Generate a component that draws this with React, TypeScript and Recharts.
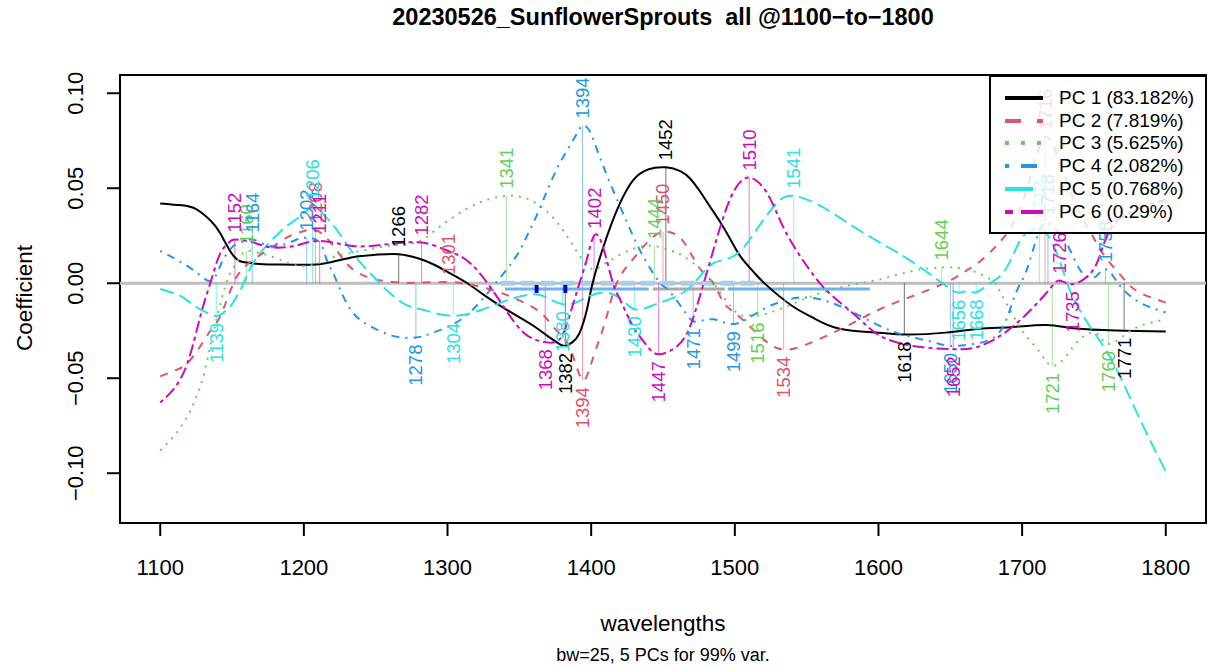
import React from 'react'
import {
  ComposedChart,
  Line,
  XAxis,
  YAxis,
  ReferenceLine,
  ReferenceDot,
  ReferenceArea,
  Legend
} from 'recharts'

const FONT = '"Liberation Sans", Arial, Helvetica, sans-serif'

const xTicks = [1100, 1200, 1300, 1400, 1500, 1600, 1700, 1800]
const yTicks = [-0.1, -0.05, 0, 0.05, 0.1]
const X_DOMAIN: [number, number] = [1072, 1828]
const Y_DOMAIN: [number, number] = [-0.1262, 0.1096]

const pcNames = ['PC 1 (83.182%)', 'PC 2 (7.819%)', 'PC 3 (5.625%)', 'PC 4 (2.082%)', 'PC 5 (0.768%)', 'PC 6 (0.29%)']
const pcColors = ['#000000', '#DF536B', '#61D04F', '#2297E6', '#28E2E5', '#CD0BBC']
// R line types, in units of lwd
const pcLty = ['', '4 4', '1 3', '1 3 4 3', '7 3', '2 2 6 2']

// PC 1
const pc1Nm = [1100, 1115, 1125, 1135, 1142, 1151, 1160, 1172, 1184, 1200, 1215, 1234, 1250, 1266, 1280, 1290, 1300, 1313, 1325, 1337, 1348, 1360, 1370, 1378, 1382, 1387, 1392, 1397, 1401, 1408, 1414, 1420, 1429, 1440, 1452, 1462, 1469, 1476, 1483, 1490, 1497, 1504, 1513, 1522, 1540, 1554, 1573, 1600, 1618, 1647, 1670, 1694, 1717, 1740, 1771, 1800]
const pc1 = [0.042, 0.041, 0.039, 0.033, 0.026, 0.0144, 0.0109, 0.01, 0.0099, 0.0097, 0.0105, 0.0137, 0.015, 0.0153, 0.013, 0.01, 0.006, 0.0004, -0.006, -0.012, -0.017, -0.0225, -0.028, -0.032, -0.033, -0.031, -0.026, -0.014, 0, 0.018, 0.031, 0.042, 0.054, 0.06, 0.061, 0.059, 0.055, 0.048, 0.04, 0.032, 0.023, 0.014, 0.006, -0.001, -0.012, -0.018, -0.024, -0.026, -0.027, -0.026, -0.024, -0.023, -0.022, -0.024, -0.025, -0.0254]
const pc1Peaks = [1266, 1382, 1452, 1618, 1771]

// PC 2
const pc2Nm = [1100, 1110, 1119, 1128, 1135, 1142, 1151, 1158, 1165, 1176, 1188, 1198, 1208, 1218, 1227, 1234, 1245, 1258, 1270, 1281, 1301, 1310, 1320, 1335, 1348, 1358, 1367, 1376, 1383, 1389, 1394, 1398, 1401, 1406, 1411, 1418, 1429, 1441, 1450, 1458, 1466, 1476, 1485, 1492, 1499, 1508, 1520, 1534, 1554, 1578, 1601, 1624, 1647, 1660, 1670, 1680, 1686, 1692, 1700, 1708, 1716, 1724, 1732, 1740, 1749, 1754, 1763, 1773, 1782, 1800]
const pc2 = [-0.049, -0.046, -0.042, -0.033, -0.025, -0.017, 0, 0.008, 0.0126, 0.018, 0.024, 0.027, 0.028, 0.022, 0.013, 0.0074, 0.003, 0.001, 0.0002, 0.0003, 0.0006, 0, -0.0014, -0.0045, -0.0084, -0.012, -0.017, -0.025, -0.031, -0.042, -0.051, -0.047, -0.04, -0.029, -0.017, 0.0004, 0.0126, 0.023, 0.027, 0.026, 0.02, 0.0074, 0, -0.01, -0.015, -0.021, -0.0295, -0.035, -0.031, -0.0225, -0.0137, -0.0067, 0.0004, 0.006, 0.011, 0.018, 0.023, 0.029, 0.042, 0.062, 0.077, 0.068, 0.052, 0.037, 0.025, 0.018, 0.009, 0.0004, -0.005, -0.0102]
const pc2Peaks = [1208, 1301, 1394, 1450, 1534, 1716]

// PC 3
const pc3Nm = [1100, 1110, 1119, 1125, 1130, 1137, 1144, 1149, 1155, 1160, 1168, 1176, 1188, 1200, 1212, 1223, 1240, 1258, 1275, 1285, 1295, 1313, 1328, 1341, 1353, 1364, 1374, 1383, 1392, 1401, 1411, 1429, 1444, 1456, 1464, 1476, 1485, 1490, 1501, 1508, 1516, 1531, 1554, 1578, 1601, 1624, 1644, 1661, 1678, 1685, 1693, 1701, 1712, 1721, 1731, 1740, 1749, 1754, 1760, 1770, 1782, 1800]
const pc3 = [-0.088, -0.08, -0.07, -0.06, -0.049, -0.026, -0.005, 0.0056, 0.013, 0.017, 0.016, 0.0144, 0.011, 0.009, 0.011, 0.0144, 0.017, 0.0196, 0.021, 0.024, 0.03, 0.039, 0.044, 0.046, 0.045, 0.041, 0.034, 0.025, 0.0144, 0.0074, 0.011, 0.018, 0.0196, 0.017, 0.0144, 0.0074, 0, -0.005, -0.0154, -0.0168, -0.017, -0.0137, -0.0067, -0.0014, 0.002, 0.0065, 0.0083, 0.0074, 0.002, -0.005, -0.016, -0.026, -0.036, -0.0435, -0.038, -0.0295, -0.026, -0.028, -0.032, -0.028, -0.0225, -0.019]
const pc3Peaks = [1160, 1341, 1444, 1516, 1644, 1721, 1760]

// PC 4
const pc4Nm = [1100, 1110, 1119, 1128, 1135, 1140, 1144, 1151, 1158, 1164, 1171, 1177, 1185, 1195, 1202, 1211, 1216, 1220, 1225, 1234, 1246, 1262, 1278, 1290, 1306, 1320, 1334, 1348, 1356, 1364, 1376, 1388, 1394, 1399, 1404, 1413, 1425, 1436, 1448, 1453, 1464, 1471, 1478, 1485, 1492, 1499, 1508, 1522, 1538, 1548, 1559, 1578, 1601, 1620, 1638, 1650, 1666, 1684, 1694, 1701, 1705, 1709, 1713, 1718, 1724, 1731, 1740, 1747, 1752, 1758, 1764, 1770, 1782, 1800]
const pc4 = [0.017, 0.013, 0.009, 0.004, 0.0012, 0.006, 0.0126, 0.0196, 0.022, 0.023, 0.021, 0.0196, 0.02, 0.023, 0.024, 0.0214, 0.012, 0.006, -0.003, -0.0154, -0.0225, -0.0277, -0.0286, -0.026, -0.0207, -0.012, 0.0004, 0.0144, 0.026, 0.039, 0.06, 0.076, 0.083, 0.08, 0.0705, 0.053, 0.032, 0.0144, 0, -0.003, -0.0137, -0.02, -0.0195, -0.019, -0.0205, -0.0215, -0.019, -0.0128, -0.0084, -0.0075, -0.0084, -0.0137, -0.0225, -0.0277, -0.031, -0.033, -0.032, -0.026, -0.0084, 0.003, 0.011, 0.021, 0.029, 0.032, 0.028, 0.021, 0.0074, 0.003, 0.004, 0.0074, 0.003, -0.003, -0.0102, -0.0154]
const pc4Peaks = [1164, 1202, 1278, 1394, 1471, 1499, 1650, 1718, 1758]

// PC 5
const pc5Nm = [1100, 1114, 1122, 1130, 1139, 1144, 1149, 1154, 1158, 1165, 1176, 1188, 1197, 1206, 1214, 1223, 1234, 1244, 1253, 1258, 1268, 1276, 1286, 1304, 1325, 1344, 1360, 1369, 1380, 1390, 1399, 1411, 1422, 1430, 1440, 1448, 1464, 1476, 1485, 1494, 1504, 1515, 1529, 1541, 1559, 1578, 1601, 1624, 1647, 1656, 1662, 1668, 1676, 1685, 1692, 1699, 1706, 1712, 1718, 1724, 1730, 1736, 1747, 1759, 1770, 1782, 1791, 1800]
const pc5 = [-0.003, -0.0067, -0.011, -0.0146, -0.0172, -0.0155, -0.012, -0.006, 0, 0.011, 0.0214, 0.03, 0.035, 0.04, 0.036, 0.028, 0.016, 0.007, 0, -0.004, -0.01, -0.0128, -0.0146, -0.0172, -0.0137, -0.0084, -0.0058, -0.0075, -0.011, -0.01, -0.0067, -0.005, -0.009, -0.0137, -0.0125, -0.0102, -0.005, 0.004, 0.0105, 0.0126, 0.017, 0.028, 0.042, 0.046, 0.041, 0.032, 0.0214, 0.011, -0.0014, -0.005, -0.0042, -0.0048, -0.001, 0.004, 0.012, 0.023, 0.028, 0.029, 0.025, 0.016, 0.003, -0.0084, -0.0225, -0.036, -0.052, -0.0716, -0.0856, -0.099]
const pc5Peaks = [1139, 1206, 1304, 1380, 1430, 1541, 1656, 1668, 1712]

// PC 6
const pc6Nm = [1100, 1109, 1119, 1128, 1135, 1142, 1148, 1152, 1165, 1176, 1193, 1211, 1234, 1258, 1282, 1297, 1307, 1320, 1337, 1353, 1368, 1378, 1385, 1392, 1397, 1402, 1408, 1415, 1420, 1429, 1439, 1447, 1460, 1469, 1476, 1483, 1490, 1499, 1510, 1522, 1531, 1541, 1555, 1568, 1587, 1601, 1624, 1652, 1671, 1694, 1717, 1726, 1735, 1747, 1754, 1763, 1780, 1800]
const pc6 = [-0.0628, -0.056, -0.042, -0.0172, 0.0004, 0.016, 0.0214, 0.023, 0.0214, 0.019, 0.0196, 0.0223, 0.0196, 0.0205, 0.0214, 0.018, 0.015, 0.0074, -0.01, -0.026, -0.031, -0.0295, -0.017, 0.0004, 0.0126, 0.025, 0.0196, 0.0004, -0.0084, -0.0225, -0.033, -0.0374, -0.033, -0.0225, -0.006, 0.012, 0.03, 0.048, 0.0556, 0.048, 0.034, 0.0196, 0.004, -0.0067, -0.019, -0.0277, -0.033, -0.0347, -0.033, -0.0225, -0.005, 0.0015, -0.0005, 0.0047, 0.0144, 0.03, 0.039, 0.044]
const pc6Peaks = [1152, 1211, 1282, 1368, 1402, 1447, 1510, 1652, 1726, 1735]

// bands drawn near the zero line
const zeroBandNm = [1337, 1517]
const rangeFrom = [1340, 1443, 1495]
const rangeTo = [1440, 1493, 1594]
const rangeColors = ['#6FB1E8', '#A8A8A8', '#6FB1E8']
const RANGE_Y = -0.003
const markerNm = [1362, 1382]

const seriesNm = [pc1Nm, pc2Nm, pc3Nm, pc4Nm, pc5Nm, pc6Nm]
const seriesV = [pc1, pc2, pc3, pc4, pc5, pc6]
const seriesPeaks = [pc1Peaks, pc2Peaks, pc3Peaks, pc4Peaks, pc5Peaks, pc6Peaks]

const series = seriesNm.map((nm, i) => ({
  name: pcNames[i],
  color: pcColors[i],
  lty: pcLty[i],
  data: nm.map((x, j) => ({ nm: x, v: seriesV[i][j] })),
  peaks: seriesPeaks[i].map((p) => ({ nm: p, v: seriesV[i][nm.indexOf(p)] }))
}))

const dash = (lty: string, lwd: number) =>
  lty ? lty.split(' ').map((n) => Number(n) * lwd).join(' ') : undefined

const fmtY = (v: number) => (v < 0 ? '\u2212' : '') + Math.abs(v).toFixed(2)

const XTick = ({ x, y, payload }: any) => (
  <text x={x} y={y + 39} textAnchor="middle" fontSize={22} fontFamily={FONT} fill="#000">
    {payload.value}
  </text>
)

const YTick = ({ x, y, payload }: any) => (
  <text
    x={x - 31}
    y={y}
    transform={`rotate(-90 ${x - 31} ${y})`}
    textAnchor="middle"
    dominantBaseline="central"
    fontSize={22}
    fontFamily={FONT}
    fill="#000"
  >
    {fmtY(payload.value)}
  </text>
)

const peakLabel = (text: string, color: string, up: boolean) => (p: any) => (
  <text
    x={p.cx}
    y={p.cy}
    transform={`rotate(-90 ${p.cx} ${p.cy})`}
    dx={up ? 7 : -7}
    textAnchor={up ? 'start' : 'end'}
    dominantBaseline="central"
    fontSize={18.5}
    fontFamily={FONT}
    fill={color}
  >
    {text}
  </text>
)

const markerShape = (p: any) => (
  <rect x={p.cx - 2} y={p.cy - 4} width={4} height={8} fill="#0000CD" />
)

const LegendBox = () => (
  <div
    style={{
      width: 218,
      height: 159,
      boxSizing: 'border-box',
      border: '2px solid #000',
      background: 'rgba(255,255,255,0.8)',
      position: 'relative',
      fontFamily: FONT
    }}
  >
    {series.map((s, i) => (
      <div
        key={s.name}
        style={{ position: 'absolute', left: 0, top: 9 + i * 22.7, height: 24, display: 'flex', alignItems: 'center' }}
      >
        <svg width={68} height={24}>
          <line x1={14} x2={52} y1={12} y2={12} stroke={s.color} strokeWidth={4} strokeDasharray={dash(s.lty, 4)} />
        </svg>
        <span style={{ fontSize: 19, color: '#000', whiteSpace: 'pre', lineHeight: '24px' }}>{s.name}</span>
      </div>
    ))}
  </div>
)

export default function App() {
  return (
    <div
      style={{
        position: 'absolute',
        left: 0,
        top: 0,
        width: 1211,
        height: 667,
        background: '#fff',
        fontFamily: FONT,
        color: '#000'
      }}
    >
      <ComposedChart width={1211} height={667} margin={{ top: 75, right: 5, bottom: 0, left: 0 }}>
        <XAxis
          type="number"
          dataKey="nm"
          domain={X_DOMAIN}
          allowDataOverflow
          ticks={xTicks}
          height={144}
          tickSize={13}
          tickMargin={0}
          axisLine={false}
          tickLine={{ stroke: '#000', strokeWidth: 2 }}
          tick={<XTick />}
        />
        <YAxis
          type="number"
          domain={Y_DOMAIN}
          allowDataOverflow
          ticks={yTicks}
          width={120}
          tickSize={13}
          tickMargin={0}
          axisLine={false}
          tickLine={{ stroke: '#000', strokeWidth: 2 }}
          tick={<YTick />}
        />
        <ReferenceLine y={0} stroke="#BEBEBE" strokeWidth={3} />
        {series.map((s) =>
          s.peaks.map((p) => (
            <ReferenceLine
              key={`vl-${s.name}-${p.nm}`}
              segment={[{ x: p.nm, y: 0 }, { x: p.nm, y: p.v }]}
              stroke={s.color}
              strokeOpacity={0.55}
              strokeWidth={1}
            />
          ))
        )}
        <ReferenceLine
          segment={[{ x: zeroBandNm[0], y: 0 }, { x: zeroBandNm[1], y: 0 }]}
          stroke="#A6CEEE"
          strokeWidth={5}
          strokeDasharray="14 6"
        />
        {rangeFrom.map((f, i) => (
          <ReferenceLine
            key={`rg-${f}`}
            segment={[{ x: f, y: RANGE_Y }, { x: rangeTo[i], y: RANGE_Y }]}
            stroke={rangeColors[i]}
            strokeWidth={3}
          />
        ))}
        {markerNm.map((m) => (
          <ReferenceDot key={`mk-${m}`} x={m} y={RANGE_Y} shape={markerShape} />
        ))}
        {series.map((s) => (
          <Line
            key={s.name}
            data={s.data}
            dataKey="v"
            name={s.name}
            type="natural"
            stroke={s.color}
            strokeWidth={2}
            strokeDasharray={dash(s.lty, 2)}
            dot={false}
            activeDot={false}
            isAnimationActive={false}
          />
        ))}
        {series.map((s) =>
          s.peaks.map((p) => (
            <ReferenceDot
              key={`lb-${s.name}-${p.nm}`}
              x={p.nm}
              y={p.v}
              shape={peakLabel(String(p.nm), s.color, p.v > 0)}
            />
          ))
        )}
        <ReferenceArea
          x1={X_DOMAIN[0]}
          x2={X_DOMAIN[1]}
          y1={Y_DOMAIN[0]}
          y2={Y_DOMAIN[1]}
          fill="none"
          fillOpacity={0}
          stroke="#000"
          strokeWidth={2}
          strokeOpacity={1}
        />
        <Legend
          layout="vertical"
          align="center"
          verticalAlign="middle"
          wrapperStyle={{ left: 989, top: 75, width: 218, height: 159 }}
          content={() => <LegendBox />}
        />
      </ComposedChart>

      <div
        style={{
          position: 'absolute',
          left: 663,
          top: 18,
          transform: 'translate(-50%, -50%)',
          fontSize: 23.5,
          fontWeight: 'bold',
          whiteSpace: 'pre',
          lineHeight: 1
        }}
      >
        {'20230526_SunflowerSprouts  all @1100\u2212to\u22121800'}
      </div>
      <div
        style={{
          position: 'absolute',
          left: 663,
          top: 624,
          transform: 'translate(-50%, -50%)',
          fontSize: 22.5,
          whiteSpace: 'pre',
          lineHeight: 1
        }}
      >
        wavelengths
      </div>
      <div
        style={{
          position: 'absolute',
          left: 663,
          top: 655,
          transform: 'translate(-50%, -50%)',
          fontSize: 18,
          whiteSpace: 'pre',
          lineHeight: 1
        }}
      >
        bw=25, 5 PCs for 99% var.
      </div>
      <div
        style={{
          position: 'absolute',
          left: 25,
          top: 298,
          transform: 'translate(-50%, -50%) rotate(-90deg)',
          fontSize: 22.5,
          whiteSpace: 'pre',
          lineHeight: 1
        }}
      >
        Coefficient
      </div>
    </div>
  )
}
